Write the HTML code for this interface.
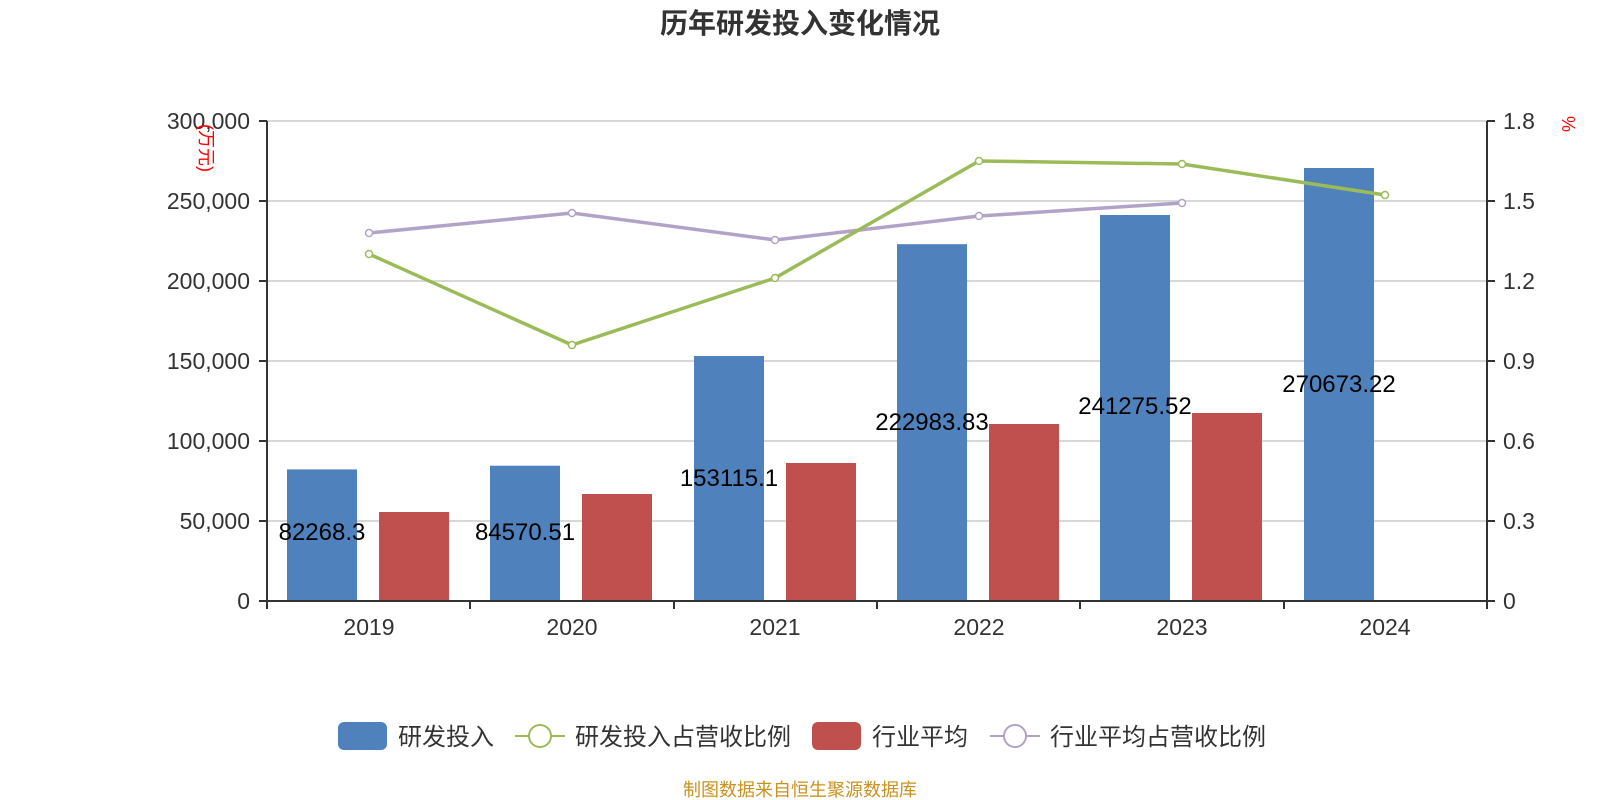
<!DOCTYPE html>
<html><head><meta charset="utf-8"><style>
html,body{margin:0;padding:0;background:#fff;}
svg{display:block;font-family:"Liberation Sans","Noto Sans CJK SC",sans-serif;}
</style></head><body>
<svg width="1600" height="800" viewBox="0 0 1600 800">
<text x="800" y="33" text-anchor="middle" font-size="28" font-weight="bold" fill="#333">历年研发投入变化情况</text>
<g stroke="#ccc" stroke-width="1.5">
<line x1="267" y1="121" x2="1487" y2="121"/><line x1="267" y1="201" x2="1487" y2="201"/>
<line x1="267" y1="281" x2="1487" y2="281"/><line x1="267" y1="361" x2="1487" y2="361"/>
<line x1="267" y1="441" x2="1487" y2="441"/><line x1="267" y1="521" x2="1487" y2="521"/>
</g>
<g font-size="23" fill="#333" text-anchor="end">
<text x="250" y="129">300,000</text><text x="250" y="209">250,000</text><text x="250" y="289">200,000</text>
<text x="250" y="369">150,000</text><text x="250" y="449">100,000</text><text x="250" y="529">50,000</text><text x="250" y="609">0</text>
</g>
<g font-size="23" fill="#333">
<text x="1503" y="129">1.8</text><text x="1503" y="209">1.5</text><text x="1503" y="289">1.2</text>
<text x="1503" y="369">0.9</text><text x="1503" y="449">0.6</text><text x="1503" y="529">0.3</text><text x="1503" y="609">0</text>
</g>
<text x="0" y="0" font-size="18" fill="red" transform="translate(200,124) rotate(90)">(万元)</text>
<text x="0" y="0" font-size="18" fill="red" transform="translate(1562,116) rotate(90)">%</text>
<g fill="#4f81bd">
<rect x="287" y="469.4" width="70" height="131.6"/>
<rect x="490" y="465.7" width="70" height="135.3"/>
<rect x="694" y="356" width="70" height="245"/>
<rect x="897" y="244.2" width="70" height="356.8"/>
<rect x="1100" y="215" width="70" height="386"/>
<rect x="1304" y="168" width="70" height="433"/>
</g>
<g fill="#c0504d">
<rect x="379" y="512" width="70" height="89"/>
<rect x="582" y="494" width="70" height="107"/>
<rect x="786" y="463" width="70" height="138"/>
<rect x="989" y="424" width="70" height="177"/>
<rect x="1192" y="413" width="70" height="188"/>
</g>
<g stroke="#333" stroke-width="2" fill="none">
<line x1="267" y1="121" x2="267" y2="609"/><line x1="1487" y1="121" x2="1487" y2="609"/>
<line x1="259" y1="601" x2="1495" y2="601"/>
<line x1="259" y1="121" x2="267" y2="121"/><line x1="259" y1="201" x2="267" y2="201"/><line x1="259" y1="281" x2="267" y2="281"/><line x1="259" y1="361" x2="267" y2="361"/><line x1="259" y1="441" x2="267" y2="441"/><line x1="259" y1="521" x2="267" y2="521"/>
<line x1="1487" y1="121" x2="1495" y2="121"/><line x1="1487" y1="201" x2="1495" y2="201"/><line x1="1487" y1="281" x2="1495" y2="281"/><line x1="1487" y1="361" x2="1495" y2="361"/><line x1="1487" y1="441" x2="1495" y2="441"/><line x1="1487" y1="521" x2="1495" y2="521"/>
<line x1="470" y1="601" x2="470" y2="609"/><line x1="674" y1="601" x2="674" y2="609"/><line x1="877" y1="601" x2="877" y2="609"/><line x1="1080" y1="601" x2="1080" y2="609"/><line x1="1284" y1="601" x2="1284" y2="609"/>
</g>
<g font-size="23" fill="#333" text-anchor="middle">
<text x="369" y="635">2019</text><text x="572" y="635">2020</text><text x="775" y="635">2021</text>
<text x="979" y="635">2022</text><text x="1182" y="635">2023</text><text x="1385" y="635">2024</text>
</g>
<polyline fill="none" stroke="#b3a2c7" stroke-width="3.5" points="369,233 572,213 775,240 979,216 1182,203"/>
<polyline fill="none" stroke="#9bbb59" stroke-width="3.5" points="369,254 572,345 775,278 979,161 1182,164 1385,195"/>
<g fill="#fff" stroke="#b3a2c7" stroke-width="1.5">
<circle cx="369" cy="233" r="3.5"/><circle cx="572" cy="213" r="3.5"/><circle cx="775" cy="240" r="3.5"/><circle cx="979" cy="216" r="3.5"/><circle cx="1182" cy="203" r="3.5"/>
</g>
<g fill="#fff" stroke="#9bbb59" stroke-width="1.5">
<circle cx="369" cy="254" r="3.5"/><circle cx="572" cy="345" r="3.5"/><circle cx="775" cy="278" r="3.5"/><circle cx="979" cy="161" r="3.5"/><circle cx="1182" cy="164" r="3.5"/><circle cx="1385" cy="195" r="3.5"/>
</g>
<g font-size="24" fill="#000" text-anchor="middle">
<text x="322" y="540">82268.3</text><text x="525" y="540">84570.51</text><text x="729" y="486">153115.1</text>
<text x="932" y="430">222983.83</text><text x="1135" y="414">241275.52</text><text x="1339" y="392">270673.22</text>
</g>
<rect x="338" y="722" width="49" height="28" rx="6" fill="#4f81bd"/>
<text x="398" y="745" font-size="24" fill="#333">研发投入</text>
<line x1="515" y1="736" x2="565" y2="736" stroke="#9bbb59" stroke-width="2"/>
<circle cx="540" cy="736" r="11" fill="#fff" stroke="#9bbb59" stroke-width="2"/>
<text x="575" y="745" font-size="24" fill="#333">研发投入占营收比例</text>
<rect x="812" y="722" width="49" height="28" rx="6" fill="#c0504d"/>
<text x="872" y="745" font-size="24" fill="#333">行业平均</text>
<line x1="990" y1="736" x2="1040" y2="736" stroke="#b3a2c7" stroke-width="2"/>
<circle cx="1015" cy="736" r="11" fill="#fff" stroke="#b3a2c7" stroke-width="2"/>
<text x="1050" y="745" font-size="24" fill="#333">行业平均占营收比例</text>
<text x="800" y="796" font-size="18" fill="#c8921e" text-anchor="middle">制图数据来自恒生聚源数据库</text>
</svg>
</body></html>
